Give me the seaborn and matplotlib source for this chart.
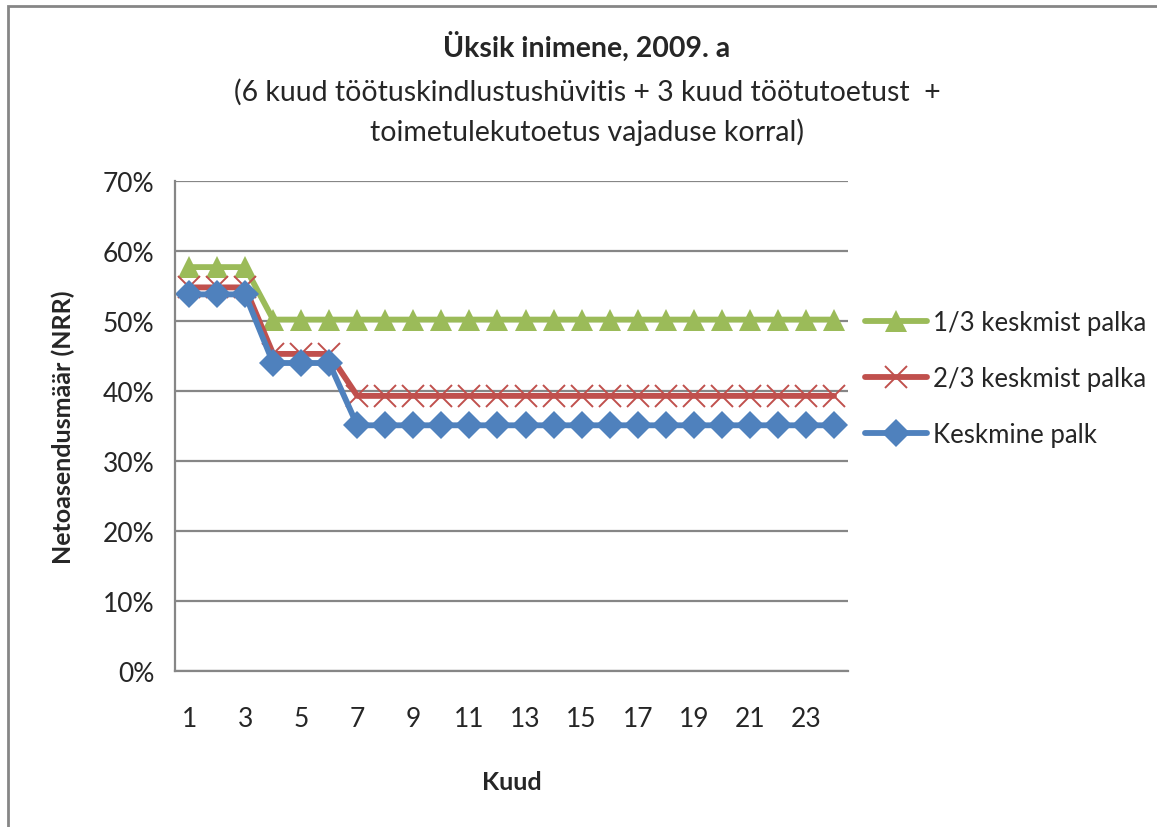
import numpy as np
import pandas as pd
import matplotlib
matplotlib.use("Agg")
import matplotlib.pyplot as plt
import seaborn as sns
from matplotlib.lines import Line2D
from matplotlib.patches import Rectangle

# Andmed (loetud pildilt)
kuud = list(range(1, 25))
kolmandik = [0.577] * 3 + [0.502] * 21
kaks_kolmandikku = [0.548] * 3 + [0.453] * 3 + [0.393] * 18
keskmine = [0.538] * 3 + [0.440] * 3 + [0.351] * 18

seeriad = ["1/3 keskmist palka", "2/3 keskmist palka", "Keskmine palk"]
y_ticks = [0, 0.1, 0.2, 0.3, 0.4, 0.5, 0.6, 0.7]
x_ticklabels = [str(k) for k in range(1, 25, 2)]

df = pd.DataFrame({
    "Kuud": kuud * 3,
    "NRR": kolmandik + kaks_kolmandikku + keskmine,
    "Seeria": [seeriad[0]] * 24 + [seeriad[1]] * 24 + [seeriad[2]] * 24,
})

sns.set_theme(style="white")
plt.rcParams['font.family'] = ['Lato', 'DejaVu Sans']

varvid = {seeriad[0]: "#9BBB59", seeriad[1]: "#C0504D", seeriad[2]: "#4F81BD"}
markerid = {seeriad[0]: "^", seeriad[1]: "x", seeriad[2]: "D"}
msize = {seeriad[0]: 16, seeriad[1]: 16, seeriad[2]: 14}
lw = 4.2

W, H = 1157, 828
fig = plt.figure(figsize=(W / 100, H / 100), dpi=100)
ax = fig.add_axes([175 / W, 1 - 672 / H, (848 - 175) / W, (672 - 182) / H])

# raami joon (diagrammi ala)
fig.patches.append(Rectangle((8 / W, -0.1), 1.2, 1 - 7 / H + 0.1, transform=fig.transFigure,
                             fill=False, edgecolor="#868686", linewidth=2, zorder=0))

for s in seeriad:
    sub = df[df["Seeria"] == s]
    sns.lineplot(data=sub, x="Kuud", y="NRR", ax=ax, color=varvid[s], linewidth=lw,
                 marker=markerid[s], markersize=msize[s], markeredgewidth=1.4 if s == seeriad[1] else 0,
                 markeredgecolor=varvid[s], label=s, legend=False)

ax.set_xlim(0.5, 24.5)
ax.set_ylim(0, 0.7)
ax.set_yticks(y_ticks)
ax.set_yticklabels([f"{int(round(t * 100))}%" for t in y_ticks], fontsize=19)
ax.set_xticks(range(1, 25, 2))
ax.set_xticklabels(x_ticklabels, fontsize=19)
ax.set_xticks(np.arange(0.5, 25, 1), minor=True)
ax.tick_params(axis="x", which="major", length=0, pad=25)
ax.tick_params(axis="x", which="minor", length=7, width=1.5, color="#868686", direction="out")
ax.tick_params(axis="y", length=7, width=1.5, color="#868686", direction="out", pad=8)
ax.yaxis.grid(True, color="#868686", linewidth=1.6)
ax.set_axisbelow(True)
for side in ["top", "right"]:
    ax.spines[side].set_visible(False)
for side in ["left", "bottom"]:
    ax.spines[side].set_color("#868686")
    ax.spines[side].set_linewidth(1.6)

ax.set_xlabel("Kuud", fontsize=18, fontweight="bold", labelpad=28)
ax.set_ylabel("Netoasendusmäär (NRR)", fontsize=18, fontweight="bold", labelpad=20)

fig.text(587 / W, 1 - 47 / H, "Üksik inimene, 2009. a", ha="center", va="center",
         fontsize=20.5, fontweight="bold")
fig.text(587 / W, 1 - 92 / H, "(6 kuud töötuskindlustushüvitis + 3 kuud töötutoetust  +",
         ha="center", va="center", fontsize=20.5)
fig.text(587 / W, 1 - 132 / H, "toimetulekutoetus vajaduse korral)",
         ha="center", va="center", fontsize=20.5)

handles = [Line2D([0], [0], color=varvid[s], linewidth=lw, marker=markerid[s],
                  markersize=msize[s], markeredgewidth=1.4 if s == seeriad[1] else 0,
                  markeredgecolor=varvid[s]) for s in seeriad]
fig.legend(handles, seeriad, loc="upper left", bbox_to_anchor=(842 / W, 1 - 288 / H),
           frameon=False, fontsize=18.5, handlelength=2.4, handletextpad=0.25,
           labelspacing=1.2)

fig.savefig("out.png", dpi=100)
